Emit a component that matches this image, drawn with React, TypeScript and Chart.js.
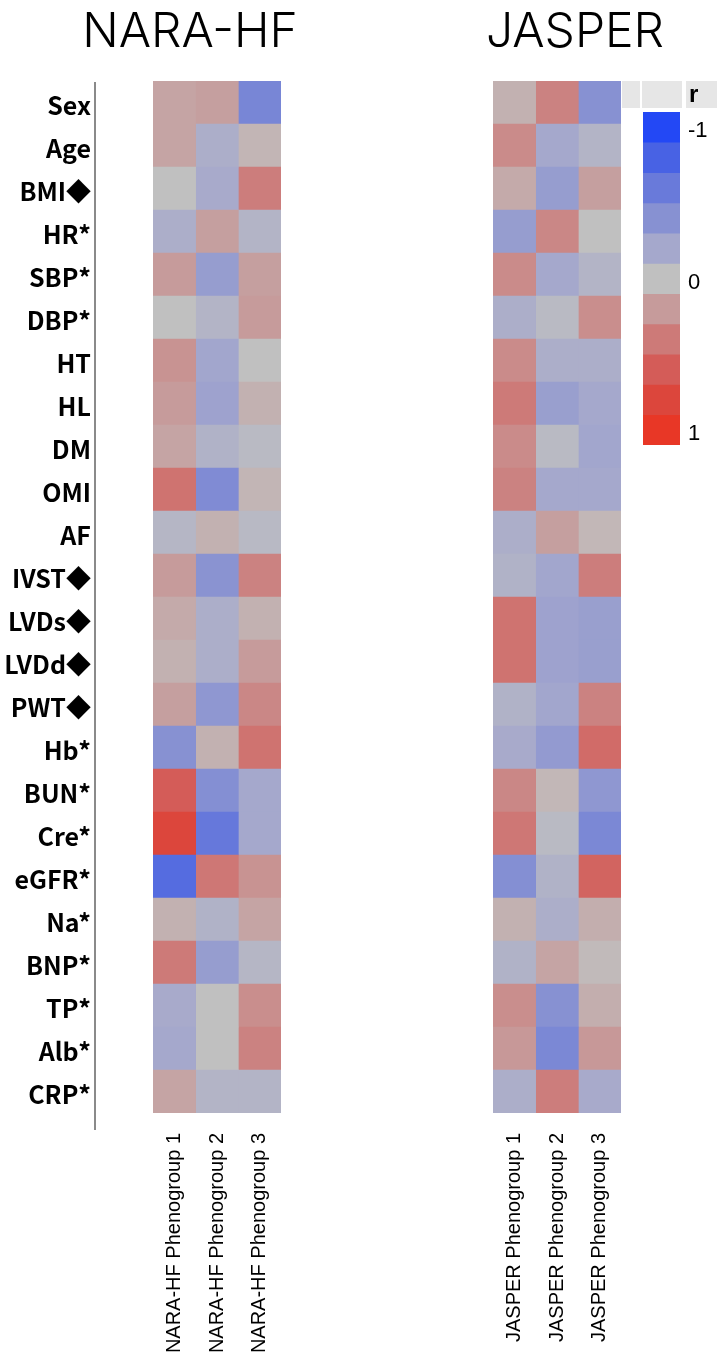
import React, { useEffect, useRef } from 'react';
import { Chart, registerables } from 'chart.js';

Chart.register(...registerables);

// ---------- data ----------
const variables = [
  'Sex', 'Age', 'BMI◆', 'HR*', 'SBP*', 'DBP*', 'HT', 'HL', 'DM', 'OMI', 'AF',
  'IVST◆', 'LVDs◆', 'LVDd◆', 'PWT◆', 'Hb*', 'BUN*', 'Cre*', 'eGFR*', 'Na*',
  'BNP*', 'TP*', 'Alb*', 'CRP*',
];

const naraGroups = ['NARA-HF Phenogroup 1', 'NARA-HF Phenogroup 2', 'NARA-HF Phenogroup 3'];
const jasperGroups = ['JASPER Phenogroup 1', 'JASPER Phenogroup 2', 'JASPER Phenogroup 3'];

// correlation coefficient r for each variable (same order as `variables`)
const naraG1 = [0.15, 0.15, 0.0, -0.15, 0.2, 0.0, 0.25, 0.2, 0.15, 0.45, -0.08, 0.2, 0.12, 0.08, 0.18, -0.4, 0.6, 0.8, -0.72, 0.08, 0.4, -0.18, -0.2, 0.15];
const naraG2 = [0.18, -0.15, -0.18, 0.18, -0.3, -0.1, -0.22, -0.25, -0.12, -0.45, 0.08, -0.38, -0.15, -0.15, -0.35, 0.08, -0.42, -0.62, 0.42, -0.12, -0.3, 0.0, 0.0, -0.1];
const naraG3 = [-0.5, 0.06, 0.38, -0.1, 0.18, 0.2, 0.0, 0.08, -0.05, 0.06, -0.06, 0.35, 0.08, 0.2, 0.32, 0.45, -0.2, -0.2, 0.25, 0.15, -0.08, 0.28, 0.35, -0.1];

const jasperG1 = [0.08, 0.3, 0.12, -0.3, 0.3, -0.15, 0.3, 0.4, 0.3, 0.35, -0.15, -0.12, 0.45, 0.45, -0.12, -0.18, 0.32, 0.42, -0.42, 0.08, -0.12, 0.28, 0.22, -0.15];
const jasperG2 = [0.35, -0.2, -0.3, 0.32, -0.2, -0.05, -0.15, -0.28, -0.05, -0.2, 0.18, -0.22, -0.25, -0.25, -0.22, -0.32, 0.05, -0.05, -0.12, -0.15, 0.15, -0.4, -0.48, 0.38];
const jasperG3 = [-0.4, -0.1, 0.18, 0.0, -0.1, 0.28, -0.15, -0.2, -0.22, -0.2, 0.05, 0.38, -0.28, -0.28, 0.35, 0.5, -0.35, -0.48, 0.55, 0.1, 0.03, 0.1, 0.22, -0.18];

// colour legend
const legendBins = [-1, -0.8, -0.6, -0.4, -0.2, 0, 0.2, 0.4, 0.6, 0.8, 1];
const legendColors = ['#2348f5', '#4862e4', '#697ada', '#8791d2', '#a5a8cc', '#c0c0c0', '#c69b9b', '#cd7a78', '#d45c58', '#dc463c', '#e83726'];
const legendTicks = [-1, 0, 1];
const legendTitle = 'r';

// ---------- helpers ----------
function hexToRgb(h: string): number[] {
  const v = parseInt(h.slice(1), 16);
  return [(v >> 16) & 255, (v >> 8) & 255, v & 255];
}
const paletteRgb = legendColors.map(hexToRgb);

function colorFor(r: number): string {
  const c = Math.max(-1, Math.min(1, r));
  const t = (c + 1) / 0.2;
  const i = Math.min(paletteRgb.length - 2, Math.floor(t));
  const f = t - i;
  const a = paletteRgb[i];
  const b = paletteRgb[i + 1];
  const m = a.map((av, k) => Math.round(av + (b[k] - av) * f));
  return `rgb(${m[0]},${m[1]},${m[2]})`;
}

// title centred on the whole canvas (independent of the plot padding)
const centeredTitlePlugin = {
  id: 'centeredTitle',
  afterDraw(chart: any) {
    const o = chart.options.plugins.centeredTitle;
    if (!o || !o.text) return;
    const { ctx } = chart;
    ctx.save();
    ctx.fillStyle = '#000';
    ctx.font = "300 48px Inter, 'Liberation Sans', sans-serif";
    ctx.textAlign = 'center';
    ctx.textBaseline = 'alphabetic';
    ctx.fillText(o.text, chart.width / 2, 47);
    ctx.restore();
  },
};

const axisLinePlugin = {
  id: 'axisLine',
  afterDraw(chart: any) {
    const opts = chart.options.plugins.axisLine;
    if (!opts || !opts.show) return;
    const { ctx, chartArea } = chart;
    ctx.save();
    ctx.strokeStyle = '#8a8a8a';
    ctx.lineWidth = 2;
    ctx.beginPath();
    const x = chartArea.left - 58;
    ctx.moveTo(x, chartArea.top + 1);
    ctx.lineTo(x, chartArea.bottom + 17);
    ctx.stroke();
    ctx.restore();
  },
};

function makeHeatmap(canvas: HTMLCanvasElement, title: string, groups: string[], columns: number[][], showY: boolean, padLeft: number, padRight: number) {
  return new Chart(canvas, {
    type: 'bar',
    plugins: [axisLinePlugin, centeredTitlePlugin],
    data: {
      labels: variables,
      datasets: groups.map((g, i) => ({
        label: g,
        data: variables.map(() => 1),
        backgroundColor: columns[i].map(colorFor),
        borderWidth: 0,
        barPercentage: 1,
        categoryPercentage: 1,
        stack: 'cells',
      })),
    },
    options: {
      indexAxis: 'y',
      responsive: false,
      animation: false,
      devicePixelRatio: 1,
      layout: { padding: { left: padLeft, right: padRight, top: 81, bottom: 0 } },
      plugins: {
        legend: { display: false },
        tooltip: { enabled: false },
        title: { display: false },
        centeredTitle: { text: title },
        axisLine: { show: showY },
      } as any,
      scales: {
        x: {
          type: 'linear',
          stacked: true,
          min: 0,
          max: groups.length,
          position: 'bottom',
          grid: { display: false, drawTicks: false },
          border: { display: false },
          afterBuildTicks: (s: any) => {
            s.ticks = groups.map((_, i) => ({ value: i + 0.5 }));
          },
          afterFit: (s: any) => {
            s.height = 243;
          },
          ticks: {
            autoSkip: false,
            minRotation: 90,
            maxRotation: 90,
            padding: 20,
            color: '#000',
            font: { family: "'Liberation Sans', Arial, sans-serif", size: 20 },
            callback: (v: any) => groups[Math.floor(Number(v))],
          },
        },
        y: {
          type: 'category',
          stacked: true,
          display: showY,
          grid: { display: false, drawTicks: false },
          border: { display: false },
          afterFit: (s: any) => {
            if (showY) s.width = 153;
          },
          ticks: {
            autoSkip: false,
            padding: 62,
            labelOffset: 3,
            color: '#000',
            font: { family: "'Noto Sans CJK JP', 'Noto Sans', sans-serif", size: 25, weight: 'bold' },
          },
        },
      },
    } as any,
  });
}

const legendHeaderPlugin = {
  id: 'legendHeader',
  beforeDraw(chart: any) {
    const { ctx, chartArea } = chart;
    const top = chartArea.top - 31;
    const h = 27;
    ctx.save();
    ctx.fillStyle = '#e6e6e6';
    ctx.fillRect(0, top, chartArea.left - 3, h);
    ctx.fillRect(chartArea.left - 1, top, chartArea.right - chartArea.left + 3, h);
    ctx.fillRect(chartArea.right + 6, top, chart.width - chartArea.right - 6, h);
    ctx.fillStyle = '#000';
    ctx.font = "bold 24px 'Liberation Sans', Arial, sans-serif";
    ctx.textAlign = 'left';
    ctx.textBaseline = 'middle';
    ctx.fillText(legendTitle, chartArea.right + 9, top + h / 2 + 1);
    ctx.restore();
  },
};

function makeLegend(canvas: HTMLCanvasElement) {
  return new Chart(canvas, {
    type: 'bar',
    plugins: [legendHeaderPlugin],
    data: {
      labels: [legendTitle],
      datasets: legendBins.map((b, i) => ({
        label: String(b),
        data: [[b - 0.1, b + 0.1]],
        backgroundColor: legendColors[i],
        borderWidth: 0,
        barPercentage: 1,
        categoryPercentage: 1,
        grouped: false,
      })),
    } as any,
    options: {
      responsive: false,
      animation: false,
      devicePixelRatio: 1,
      layout: { padding: { left: 21, right: 0, top: 112, bottom: 25 } },
      plugins: { legend: { display: false }, tooltip: { enabled: false } },
      scales: {
        x: { display: false },
        y: {
          type: 'linear',
          position: 'right',
          min: -1.1,
          max: 1.1,
          reverse: true,
          grid: { display: false, drawTicks: false },
          border: { display: false },
          afterBuildTicks: (s: any) => {
            s.ticks = legendTicks.map((v) => ({ value: v }));
          },
          afterFit: (s: any) => {
            s.width = 37;
          },
          ticks: {
            padding: 8,
            labelOffset: 4,
            color: '#000',
            font: { family: "'Liberation Sans', Arial, sans-serif", size: 22 },
            callback: (v: any) => String(v),
          },
        },
      },
    } as any,
  });
}

export default function App() {
  const leftRef = useRef<HTMLCanvasElement>(null);
  const rightRef = useRef<HTMLCanvasElement>(null);
  const legendRef = useRef<HTMLCanvasElement>(null);

  useEffect(() => {
    const charts: Chart[] = [];
    if (leftRef.current) charts.push(makeHeatmap(leftRef.current, 'NARA-HF', naraGroups, [naraG1, naraG2, naraG3], true, 0, 99));
    if (rightRef.current) charts.push(makeHeatmap(rightRef.current, 'JASPER', jasperGroups, [jasperG1, jasperG2, jasperG3], false, 60, 96));
    if (legendRef.current) charts.push(makeLegend(legendRef.current));
    return () => charts.forEach((c) => c.destroy());
  }, []);

  return (
    <div style={{ position: 'absolute', left: 0, top: 0, width: 717, height: 1356, background: '#fff', overflow: 'hidden' }}>
      <canvas ref={leftRef} width={380} height={1356} style={{ position: 'absolute', left: 0, top: 0, width: 380, height: 1356 }} />
      <canvas ref={rightRef} width={284} height={1356} style={{ position: 'absolute', left: 433, top: 0, width: 284, height: 1356 }} />
      <canvas ref={legendRef} width={95} height={470} style={{ position: 'absolute', left: 622, top: 0, width: 95, height: 470 }} />
    </div>
  );
}
